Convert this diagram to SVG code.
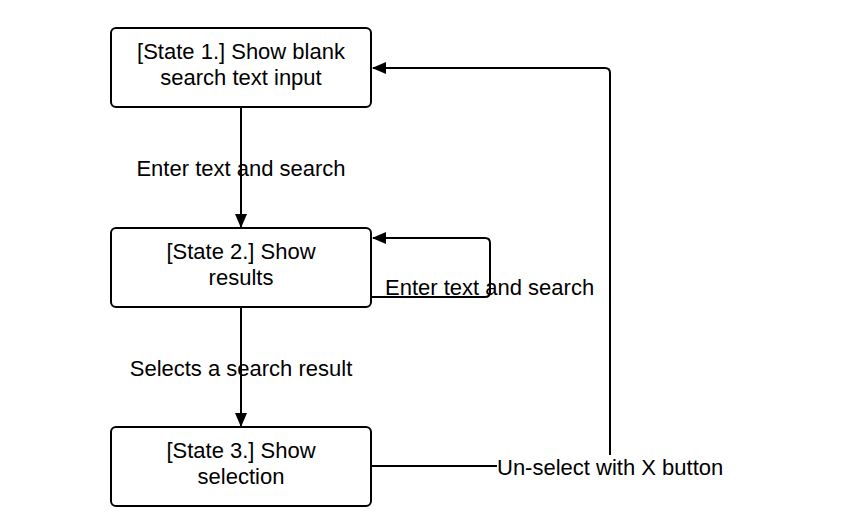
<svg xmlns="http://www.w3.org/2000/svg" width="868" height="516" viewBox="0 0 868 516">
<style>
.box{fill:#fff;stroke:#000;stroke-width:2}
.t{font-family:"Liberation Sans",Arial,sans-serif;font-size:22px;fill:#000;text-anchor:middle}
.l{font-family:"Liberation Sans",Arial,sans-serif;font-size:22px;fill:#000}
.c{fill:none;stroke:#000;stroke-width:2}
</style>
<defs>
<marker id="a" markerWidth="14" markerHeight="12" refX="13" refY="6" orient="auto" markerUnits="userSpaceOnUse">
<path d="M0,0 L14,6 L0,12 Z" fill="#000"/>
</marker>
</defs>
<rect width="868" height="516" fill="#fff"/>
<g id="connectors">
<path class="c" d="M241,108 V227" marker-end="url(#a)"/>
<path class="c" d="M241,308 V426" marker-end="url(#a)"/>
<path class="c" d="M372,297 H485 Q490,297 490,292 V243 Q490,238 485,238 H373" marker-end="url(#a)"/>
<path class="c" d="M372,466 H497"/>
<path class="c" d="M610,455 V73 Q610,68 605,68 H373" marker-end="url(#a)"/>
</g>
<g id="label1"><text class="t" x="241" y="176">Enter text and search</text></g>
<g id="label2"><text class="t" x="241" y="376">Selects a search result</text></g>
<g id="label3"><text class="l" x="385" y="295">Enter text and search</text></g>
<g id="label4"><text class="l" x="497" y="475">Un-select with X button</text></g>
<g id="state1">
<rect class="box" x="111" y="28" width="260" height="79" rx="5"/>
<text class="t" x="241" y="59">[State 1.] Show blank</text>
<text class="t" x="241" y="85">search text input</text>
</g>
<g id="state2">
<rect class="box" x="111" y="228" width="260" height="79" rx="5"/>
<text class="t" x="241" y="259">[State 2.] Show</text>
<text class="t" x="241" y="285">results</text>
</g>
<g id="state3">
<rect class="box" x="111" y="427" width="260" height="79" rx="5"/>
<text class="t" x="241" y="458">[State 3.] Show</text>
<text class="t" x="241" y="484">selection</text>
</g>
</svg>
